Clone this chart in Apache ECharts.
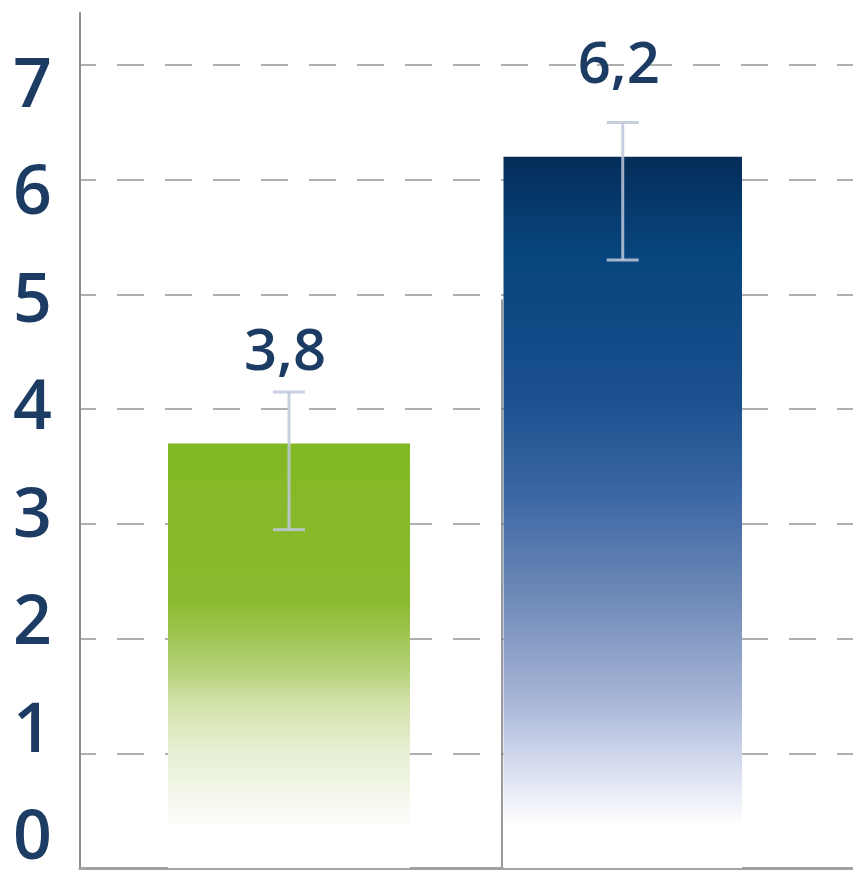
<!DOCTYPE html>
<html>
<head>
<meta charset="utf-8">
<script src="https://cdn.jsdelivr.net/npm/echarts@6/dist/echarts.min.js"></script>
<style>
  html, body { margin: 0; padding: 0; background: #ffffff; }
  #chart { width: 853px; height: 874px; }
</style>
</head>
<body>
<div id="chart"></div>
<script>
// ---- data ----
const categories = ['Grupo 1', 'Grupo 2'];
const yTickValues = [0, 1, 2, 3, 4, 5, 6, 7];
const barValues = [3.7, 6.2];
const barLabels = ['3,8', '6,2'];
const errLow = [2.95, 5.3];
const errHigh = [4.15, 6.5];

const Y_MAX = 7.454;
const gridColor = '#afafaf';
const labelColor = '#1c3c64';
const PLOT_TOP = 13, PLOT_BOTTOM = 6;

const greenGrad = new echarts.graphic.LinearGradient(0, 0, 0, 1, [
  { offset: 0, color: '#82b824' },
  { offset: 0.37, color: '#8aba30' },
  { offset: 0.53, color: '#b3d074' },
  { offset: 0.6, color: '#cfe0a5' },
  { offset: 0.72, color: '#e6efd2' },
  { offset: 0.84, color: '#f6f9ee' },
  { offset: 0.91, color: '#ffffff' },
  { offset: 1, color: '#ffffff' }
]);
const blueGrad = new echarts.graphic.LinearGradient(0, 0, 0, 1, [
  { offset: 0, color: '#052d5a' },
  { offset: 0.13, color: '#07447c' },
  { offset: 0.34, color: '#1a508e' },
  { offset: 0.48, color: '#3d68a5' },
  { offset: 0.62, color: '#6f8ab8' },
  { offset: 0.76, color: '#a5b4d5' },
  { offset: 0.86, color: '#d8def0' },
  { offset: 0.92, color: '#f5f6fb' },
  { offset: 0.94, color: '#ffffff' },
  { offset: 1, color: '#ffffff' }
]);

function errorRender(params, api) {
  const x = api.value(0);
  const pLo = api.coord([x, api.value(1)]);
  const pHi = api.coord([x, api.value(2)]);
  const half = 16;
  const style = { stroke: 'rgba(190,200,218,0.85)', lineWidth: 3 };
  return {
    type: 'group',
    children: [
      { type: 'line', shape: { x1: pHi[0], y1: pHi[1], x2: pLo[0], y2: pLo[1] }, style: style },
      { type: 'line', shape: { x1: pHi[0] - half, y1: pHi[1], x2: pHi[0] + half, y2: pHi[1] }, style: style },
      { type: 'line', shape: { x1: pLo[0] - half, y1: pLo[1], x2: pLo[0] + half, y2: pLo[1] }, style: style }
    ]
  };
}

const valueLabelStyle = {
  show: true,
  position: 'top',
  distance: 61,
  offset: [-4, 0],
  fontSize: 58,
  fontWeight: 600,
  fontFamily: "'Open Sans', sans-serif",
  color: labelColor
};

function hiddenValueY(gridIndex) {
  return { type: 'value', gridIndex: gridIndex, min: 0, max: Y_MAX, interval: 1, show: false, splitLine: { show: false } };
}

const chart = echarts.init(document.getElementById('chart'), null, { renderer: 'canvas' });
chart.setOption({
  animation: false,
  backgroundColor: '#ffffff',
  grid: [
    // 0: frame (axis lines + dashed grid)
    { left: 80, right: 0, top: PLOT_TOP, bottom: PLOT_BOTTOM },
    // 1: green bar
    { left: 168, right: 443, top: PLOT_TOP, bottom: PLOT_BOTTOM },
    // 2: blue bar
    { left: 503.5, right: 111, top: PLOT_TOP, bottom: PLOT_BOTTOM },
    // 3: y tick labels
    { left: 80, right: 772, top: 87.5, bottom: 27 },
    // 4: category separator
    { left: 502, right: 350, top: 300, bottom: PLOT_BOTTOM }
  ],
  xAxis: [
    {
      type: 'value', gridIndex: 0, min: 0, max: 1,
      axisLine: { show: true, onZero: false, lineStyle: { color: '#a2a2a2', width: 3 } },
      axisTick: { show: false }, axisLabel: { show: false }, splitLine: { show: false }
    },
    { type: 'category', gridIndex: 1, data: [categories[0]], show: false },
    { type: 'category', gridIndex: 2, data: [categories[1]], show: false },
    { type: 'value', gridIndex: 3, show: false },
    { type: 'value', gridIndex: 4, show: false }
  ],
  yAxis: [
    {
      type: 'value', gridIndex: 0, min: 0, max: Y_MAX, interval: 1,
      axisLine: { show: true, lineStyle: { color: '#8c8c8c', width: 2 } },
      axisTick: { show: false },
      axisLabel: { show: false },
      splitLine: {
        show: true, showMinLine: false, showMaxLine: false,
        lineStyle: { color: gridColor, width: 2, type: [27, 21], dashOffset: 11 }
      }
    },
    hiddenValueY(1),
    hiddenValueY(2),
    {
      type: 'value', gridIndex: 3, min: yTickValues[0], max: yTickValues[yTickValues.length - 1], interval: 1,
      axisLine: { show: false }, axisTick: { show: false }, splitLine: { show: false },
      axisLabel: {
        show: true, margin: 28, fontSize: 68, fontWeight: 600,
        fontFamily: "'Open Sans', sans-serif", color: labelColor
      }
    },
    {
      type: 'value', gridIndex: 4, min: 0, max: 1,
      axisLine: { show: true, lineStyle: { color: '#7a7a7a', width: 1.5 } },
      axisTick: { show: false }, axisLabel: { show: false }, splitLine: { show: false }
    }
  ],
  series: [
    {
      type: 'bar', xAxisIndex: 1, yAxisIndex: 1, barWidth: '100%',
      data: [barValues[0]],
      itemStyle: { color: greenGrad },
      label: Object.assign({}, valueLabelStyle, { formatter: () => barLabels[0] }),
      z: 2
    },
    {
      type: 'bar', xAxisIndex: 2, yAxisIndex: 2, barWidth: '100%',
      data: [barValues[1]],
      itemStyle: { color: blueGrad },
      label: Object.assign({}, valueLabelStyle, { formatter: () => barLabels[1] }),
      z: 2
    },
    {
      type: 'custom', xAxisIndex: 1, yAxisIndex: 1, z: 3,
      renderItem: errorRender,
      data: [[0, errLow[0], errHigh[0]]]
    },
    {
      type: 'custom', xAxisIndex: 2, yAxisIndex: 2, z: 3,
      renderItem: errorRender,
      data: [[0, errLow[1], errHigh[1]]]
    }
  ]
});
</script>
</body>
</html>
